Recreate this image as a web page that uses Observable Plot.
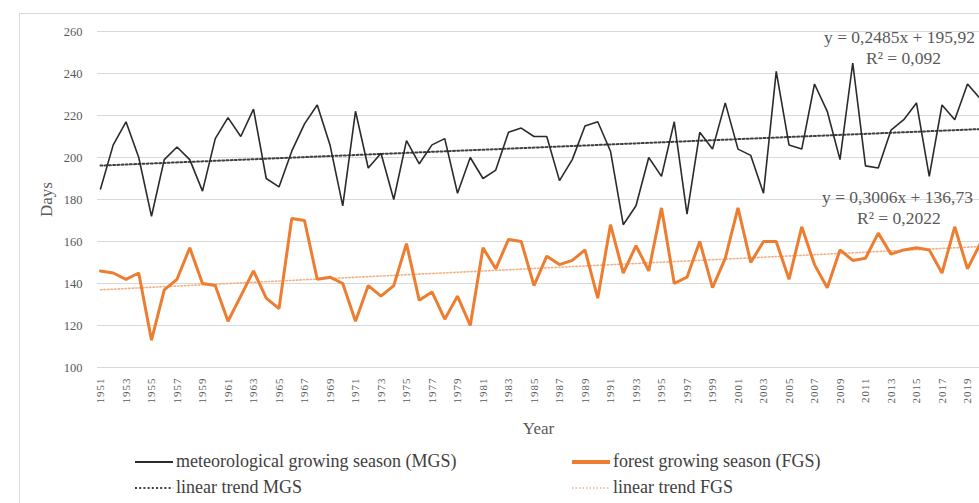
<!DOCTYPE html>
<html>
<head>
<meta charset="utf-8">
<script src="https://cdn.jsdelivr.net/npm/d3@7"></script>
<script src="https://cdn.jsdelivr.net/npm/@observablehq/plot@0.6"></script>
<style>
  html, body { margin: 0; padding: 0; background: #fff; overflow: hidden; width: 979px; height: 503px; }
  #wrap { position: relative; width: 979px; height: 503px; font-family: "Liberation Serif", "Times New Roman", serif; color: #595959; }
  #frame { position: absolute; left: 19px; top: 13px; width: 980px; height: 500px; border-left: 1px solid #d9d9d9; border-top: 1px solid #d9d9d9; }
  #chart { position: absolute; left: 0; top: 0; }
  #chart svg { overflow: visible; }
  .ann { position: absolute; font-size: 17.5px; white-space: nowrap; color: #595959; text-align: center; line-height: 20px; }
  .leg { position: absolute; font-size: 18px; white-space: nowrap; color: #404040; display: flex; align-items: center; }
  .leg svg { margin-right: 3px; }
  g[aria-label="x-axis tick label"] text { letter-spacing: 1px; }
</style>
</head>
<body>
<div id="wrap">
  <div id="frame"></div>
  <div id="chart"></div>
  <div class="ann" style="left:824px; top:27px;">y = 0,2485x + 195,92</div>
  <div class="ann" style="left:866px; top:48px;">R² = 0,092</div>
  <div class="ann" style="left:822px; top:187px;">y = 0,3006x + 136,73</div>
  <div class="ann" style="left:857px; top:208px;">R² = 0,2022</div>
  <div id="legend"></div>
</div>
<script>
const years = [1951,1952,1953,1954,1955,1956,1957,1958,1959,1960,
  1961,1962,1963,1964,1965,1966,1967,1968,1969,1970,
  1971,1972,1973,1974,1975,1976,1977,1978,1979,1980,
  1981,1982,1983,1984,1985,1986,1987,1988,1989,1990,
  1991,1992,1993,1994,1995,1996,1997,1998,1999,2000,
  2001,2002,2003,2004,2005,2006,2007,2008,2009,2010,
  2011,2012,2013,2014,2015,2016,2017,2018,2019,2020];
const mgs = [185,206,217,200,172,199,205,199,184,209,
  219,210,223,190,186,203,216,225,206,177,
  222,195,202,180,208,197,206,209,183,200,
  190,194,212,214,210,210,189,199,215,217,
  203,168,177,200,191,217,173,212,204,226,
  204,201,183,241,206,204,235,222,199,245,
  196,195,213,218,226,191,225,218,235,228];
const fgs = [146,145,142,145,113,137,142,157,140,139,
  122,134,146,133,128,171,170,142,143,140,
  122,139,134,139,159,132,136,123,134,120,
  157,147,161,160,139,153,149,151,156,133,
  168,145,158,146,176,140,143,160,138,152,
  176,150,160,160,142,167,149,138,156,151,
  152,164,154,156,157,156,145,167,147,159];
const yTicks = [100,120,140,160,180,200,220,240,260];
const xTicks = [1951,1953,1955,1957,1959,1961,1963,1965,1967,1969,1971,1973,1975,1977,1979,1981,1983,1985,1987,1989,1991,1993,1995,1997,1999,2001,2003,2005,2007,2009,2011,2013,2015,2017,2019];

const seriesNames = {
  mgs: "meteorological growing season (MGS)",
  fgs: "forest growing season (FGS)",
  tmgs: "linear trend MGS",
  tfgs: "linear trend FGS"
};
const colors = { mgs: "#2b2b2b", fgs: "#ED7D31", tmgs: "#404040", tfgs: "#F4B183" };

const data = years.map((year, i) => ({year, mgs: mgs[i], fgs: fgs[i]}));

const W = 979, H = 445;
const plot = Plot.plot({
  width: W,
  height: H,
  marginLeft: 97,
  marginRight: 0,
  marginTop: 31,
  marginBottom: H - 367,
  style: { fontFamily: '"Liberation Serif", "Times New Roman", serif', color: "#595959", background: "transparent", overflow: "visible" },
  x: { domain: [1951, 2020], range: [100, 979.75] },
  y: { domain: [100, 260], range: [367, 31] },
  marks: [
    Plot.gridY(yTicks, { stroke: "#d9d9d9", strokeOpacity: 1, strokeWidth: 1 }),
    Plot.axisY(yTicks, { tickSize: 0, tickPadding: 15, fontSize: 12.5, label: "Days", labelAnchor: "center", labelOffset: 58, labelArrow: "none", tickFormat: d => String(d) }),
    Plot.axisX(xTicks, { tickSize: 0, tickPadding: 10, tickRotate: -90, fontSize: 11, label: "Year", labelAnchor: "center", labelOffset: 66, labelArrow: "none", tickFormat: d => String(d) }),
    Plot.linearRegressionY(data, { x: "year", y: "mgs", ci: 0, stroke: colors.tmgs, strokeWidth: 2, strokeDasharray: "2,2.2" }),
    Plot.linearRegressionY(data, { x: "year", y: "fgs", ci: 0, stroke: colors.tfgs, strokeWidth: 1.6, strokeDasharray: "1.5,2" }),
    Plot.line(data, { x: "year", y: "mgs", stroke: colors.mgs, strokeWidth: 1.6, strokeLinejoin: "miter" }),
    Plot.line(data, { x: "year", y: "fgs", stroke: colors.fgs, strokeWidth: 3, strokeLinejoin: "miter" })
  ]
});
document.getElementById("chart").appendChild(plot);

plot.querySelectorAll('g[aria-label="y-axis label"] text, g[aria-label="x-axis label"] text').forEach(t => { t.setAttribute("font-size", "17"); t.style.fontSize = "17px"; });

const legendItems = [
  { key: "mgs", left: 135, top: 451, width: 2, dash: null },
  { key: "fgs", left: 572, top: 451, width: 4, dash: null },
  { key: "tmgs", left: 135, top: 477, width: 2, dash: "2,2.2" },
  { key: "tfgs", left: 572, top: 477, width: 1.6, dash: "1.5,2" }
];
const leg = document.getElementById("legend");
legendItems.forEach(it => {
  const d = document.createElement("div");
  d.className = "leg";
  d.style.left = it.left + "px";
  d.style.top = it.top + "px";
  d.innerHTML = `<svg width="38" height="20"><line x1="0" x2="38" y1="10" y2="10" stroke="${colors[it.key]}" stroke-width="${it.width}" ${it.dash ? `stroke-dasharray="${it.dash}"` : ""}/></svg><span>${seriesNames[it.key]}</span>`;
  leg.appendChild(d);
});
</script>
</body>
</html>
